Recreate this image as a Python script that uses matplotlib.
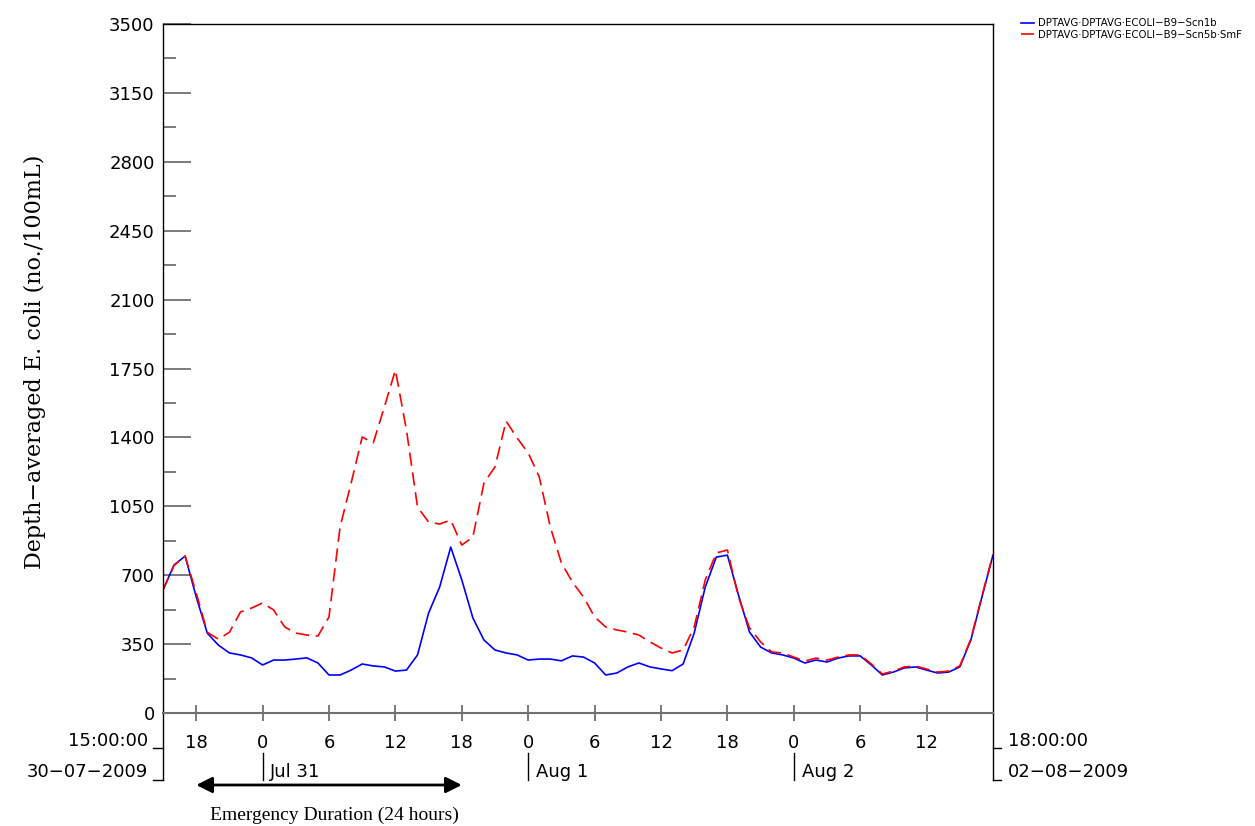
import matplotlib
matplotlib.use('Agg')
import matplotlib.pyplot as plt
import numpy as np

# hourly values, starting 30-07-2009 15:00
hours = np.arange(76)
scn1b = [625, 752, 797, 590, 406, 345, 305, 295, 280, 244,
         269, 269, 274, 280, 254, 193, 193, 218, 249, 239,
         234, 213, 218, 295, 508, 640, 843, 676, 483, 371,
         320, 305, 295, 269, 274, 274, 265, 290, 284, 254,
         193, 203, 234, 254, 234, 224, 215, 249, 406, 640,
         792, 802, 600, 411, 335, 305, 295, 279, 254, 269,
         259, 279, 290, 290, 244, 193, 208, 229, 234, 218,
         203, 208, 234, 371, 589, 802]
scn5b = [625, 750, 797, 610, 410, 375, 410, 513, 533, 559,
         523, 437, 406, 396, 391, 488, 945, 1168, 1402, 1372,
         1554, 1742, 1437, 1046, 970, 960, 980, 853, 894, 1168,
         1250, 1483, 1397, 1321, 1199, 945, 762, 665, 589, 488,
         437, 422, 411, 396, 361, 330, 305, 320, 437, 676,
         813, 828, 589, 432, 361, 310, 305, 284, 264, 279,
         269, 284, 295, 295, 249, 198, 213, 234, 239, 223,
         208, 213, 239, 376, 594, 807]
labels = ['DPTAVG\u00b7DPTAVG\u00b7ECOLI\u2212B9\u2212Scn1b',
          'DPTAVG\u00b7DPTAVG\u00b7ECOLI\u2212B9\u2212Scn5b\u00b7SmF']
start_hour = 15
day_marks = [(9, 'Jul 31'), (33, 'Aug 1'), (57, 'Aug 2')]

fig = plt.figure(figsize=(12.55, 8.26), dpi=100)
ax = fig.add_axes([163/1255, 1-713/826, 830/1255, 689/826])

ax.plot(hours, scn1b, color='#0000ff', lw=1.2, label=labels[0])
ax.plot(hours, scn5b, color='#ff0000', lw=1.2, dashes=(8, 4), label=labels[1])

ax.set_xlim(0, 75)
ax.set_ylim(0, 3500)

yt = np.arange(0, 3501, 350)
ax.set_yticks(yt)
ax.set_yticklabels([str(v) for v in yt])
ax.set_yticks(np.arange(175, 3500, 350), minor=True)
ax.tick_params(axis='y', which='major', direction='in', length=20, width=1.3,
               color='#707070', pad=6, labelsize=13)
ax.tick_params(axis='y', which='minor', direction='in', length=9.5, width=1.3,
               color='#707070')

xt = [h for h in hours[:-1] if (h + start_hour) % 6 == 0]
ax.set_xticks(xt)
ax.set_xticklabels([str((h + start_hour) % 24) for h in xt])
ax.tick_params(axis='x', direction='inout', length=12, width=1.3,
               color='#707070', pad=9, labelsize=13)

for s in ['left', 'top', 'right']:
    ax.spines[s].set_color('black')
    ax.spines[s].set_linewidth(1.0)
ax.spines['bottom'].set_color('#707070')
ax.spines['bottom'].set_linewidth(1.5)

ax.set_ylabel('Depth\u2212averaged E. coli (no./100mL)', family='DejaVu Serif',
              fontsize=16)
ax.yaxis.set_label_coords(-117/830, 0.51)

# extended frame and date brackets below the axis
low = -67/689
tr = ax.get_xaxis_transform()
ax.plot([0, 0], [0, low], transform=ax.transAxes, color='k', lw=1, clip_on=False)
ax.plot([1, 1], [0, low], transform=ax.transAxes, color='k', lw=1, clip_on=False)
for xa, dx in [(0, -10/830), (1, 8/830)]:
    ax.plot([xa, xa + dx], [-35/689, -35/689], transform=ax.transAxes,
            color='k', lw=1, clip_on=False)
    ax.plot([xa, xa + dx], [low, low], transform=ax.transAxes,
            color='k', lw=1, clip_on=False)

ax.text(-15/830, -28/689, '15:00:00', transform=ax.transAxes, ha='right',
        va='center', fontsize=13)
ax.text(-15/830, -59/689, '30\u221207\u22122009', transform=ax.transAxes,
        ha='right', va='center', fontsize=13)
ax.text(1 + 15/830, -28/689, '18:00:00', transform=ax.transAxes, ha='left',
        va='center', fontsize=13)
ax.text(1 + 15/830, -59/689, '02\u221208\u22122009', transform=ax.transAxes,
        ha='left', va='center', fontsize=13)

for h, name in day_marks:
    ax.plot([h, h], [-40/689, low], transform=tr, color='k', lw=1, clip_on=False)
    ax.text(h + 0.7, -59/689, name, transform=tr, ha='left', va='center',
            fontsize=13)

# emergency duration arrow (24 hours from 18:00 Jul 30)
ax.annotate('', xy=(3, -72/689), xytext=(27, -72/689), xycoords=tr,
            textcoords=tr, annotation_clip=False,
            arrowprops=dict(arrowstyle='<|-|>', color='k', lw=2,
                            mutation_scale=24, shrinkA=0, shrinkB=0))
ax.text(15.5, -102/689, 'Emergency Duration (24 hours)', transform=tr,
        ha='center', va='center', family='Liberation Serif', fontsize=14)

ax.legend(loc='upper left', bbox_to_anchor=(1016/1255, 1-13/826),
          bbox_transform=fig.transFigure, frameon=False, fontsize=7.3,
          handlelength=1.3, handletextpad=0.4, labelspacing=0.15,
          borderpad=0)

fig.savefig('out.png', dpi=100)
